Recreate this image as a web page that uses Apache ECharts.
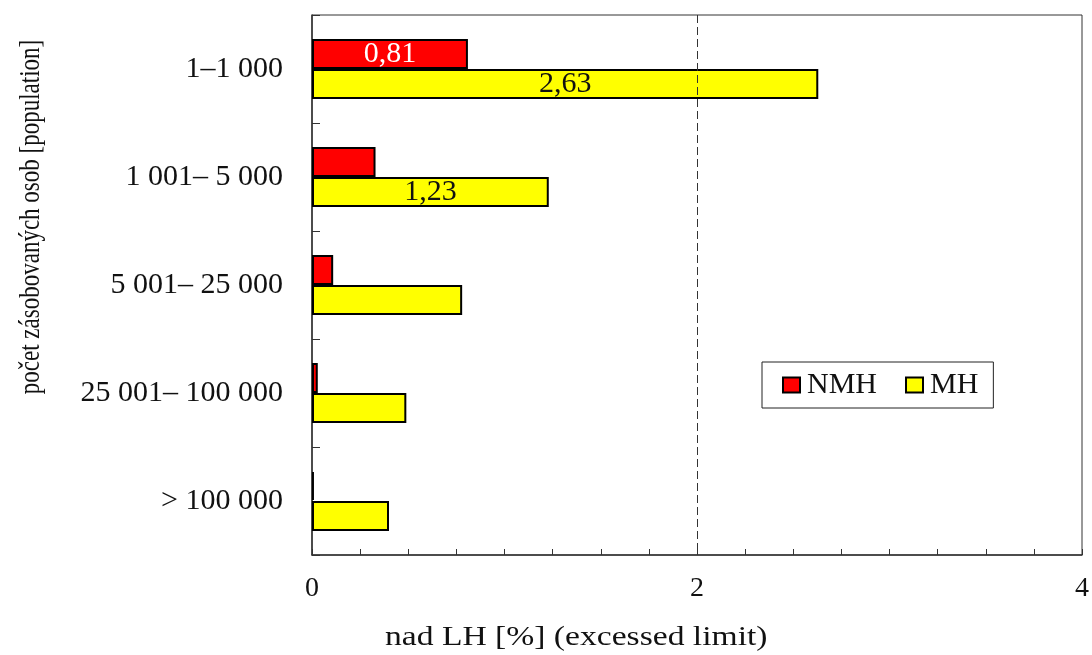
<!DOCTYPE html>
<html><head><meta charset="utf-8">
<script src="https://cdn.jsdelivr.net/npm/echarts@6/dist/echarts.min.js"></script>
<style>html,body{margin:0;padding:0;background:#fff}#c{width:1092px;height:655px}</style>
</head><body><div id="c"></div>
<script>
var categories = ['1–1 000', '1 001– 5 000', '5 001– 25 000', '25 001– 100 000', '> 100 000'];
var nmhValues = [0.81, 0.33, 0.11, 0.03, 0.01];
var mhValues = [2.63, 1.23, 0.78, 0.49, 0.40];
var nmhLabeled = [0];
var mhLabeled = [0, 1];
var xTickLabels = ['0', '2', '4'];
var FONT = "'Liberation Serif', 'Times New Roman', serif";

function fmt(v){ return String(v.toFixed(2)).replace('.', ','); }
function build(vals, labeled, color){
  return vals.map(function(v, i){
    var it = {value: v};
    if (labeled.indexOf(i) >= 0) {
      it.label = {show: true, position: 'inside', color: color, fontFamily: FONT, fontSize: 30,
        formatter: function(p){ return fmt(p.value); }};
    }
    return it;
  });
}
var chart = echarts.init(document.getElementById('c'));
chart.setOption({
  animation: false,
  backgroundColor: '#fff',
  grid: {left: 312, top: 15, right: 10, bottom: 100, show: true, borderColor: '#333', borderWidth: 1, backgroundColor: 'transparent'},
  legend: {
    left: 762, top: 362,
    orient: 'horizontal', padding: [8, 15, 8, 20], itemGap: 28,
    borderColor: '#222', borderWidth: 1, borderRadius: 0,
    itemWidth: 17, itemHeight: 15,
    icon: 'rect',
    textStyle: {fontFamily: FONT, fontSize: 30, color: '#111', padding: [0, 0, 0, 2]},
    data: [
      {name: 'NMH', itemStyle: {color: '#ff0000', borderColor: '#000', borderWidth: 2}},
      {name: 'MH', itemStyle: {color: '#ffff00', borderColor: '#000', borderWidth: 2}}
    ]
  },
  xAxis: {
    type: 'value', min: 0, max: 4, interval: 0.25,
    axisLine: {show: true, lineStyle: {color: '#333', width: 1.5}},
    axisTick: {show: true, inside: true, length: 6, lineStyle: {color: '#333'}},
    splitLine: {show: false},
    axisLabel: {fontFamily: FONT, fontSize: 28, color: '#111', margin: 20,
      formatter: function(v){ var k = xTickLabels.indexOf(String(v)); return (Math.abs(v % 2) < 1e-9 && k >= 0) ? xTickLabels[k] : ''; }}
  },
  yAxis: {
    type: 'category', data: categories, inverse: true,
    axisLine: {show: true, lineStyle: {color: '#333', width: 1.5}},
    axisTick: {show: true, inside: true, length: 8, alignWithLabel: false, lineStyle: {color: '#333'}},
    axisLabel: {fontFamily: FONT, fontSize: 30, color: '#111', margin: 29}
  },
  graphic: [
    {type: 'text', x: 385, y: 638, scaleX: 1.2, style: {text: 'nad LH [%] (excessed limit)', font: '28px ' + FONT, fill: '#111', align: 'left', verticalAlign: 'middle'}},
    {type: 'text', x: 31, y: 217, rotation: Math.PI/2, scaleY: 1.3, style: {text: 'počet zásobovaných osob [population]', font: '23px ' + FONT, fill: '#111', align: 'center', verticalAlign: 'middle'}}
  ],
  series: [
    {name: 'NMH', type: 'bar', barWidth: 30, barGap: '0%',
      itemStyle: {color: '#ff0000', borderColor: '#000', borderWidth: 2},
      data: build(nmhValues, nmhLabeled, '#ffffff')},
    {name: 'MH', type: 'bar', barWidth: 30, barGap: '0%',
      itemStyle: {color: '#ffff00', borderColor: '#000', borderWidth: 2},
      data: build(mhValues, mhLabeled, '#111'),
      markLine: {silent: true, symbol: 'none', label: {show: false},
        lineStyle: {color: '#333', type: [8, 4], width: 1},
        data: [{xAxis: 2}]}}
  ]
});
</script></body></html>
